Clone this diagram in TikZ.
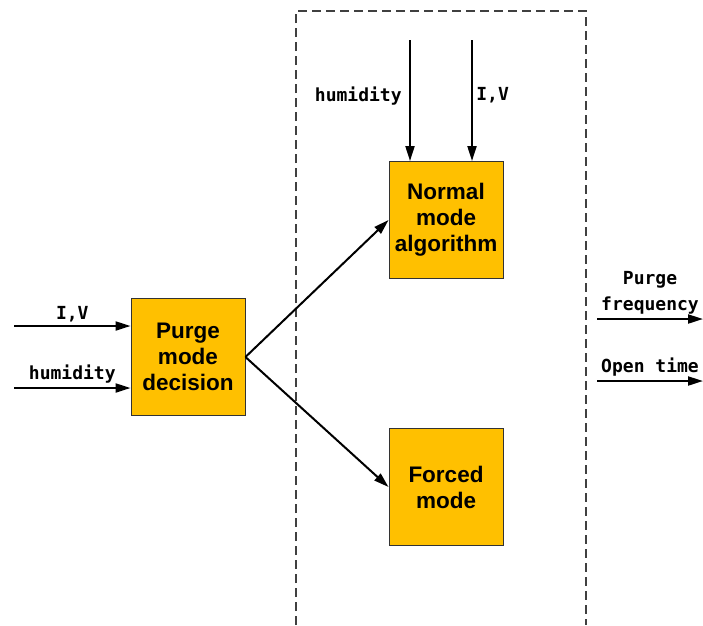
\documentclass[tikz,border=0pt]{standalone}
\usepackage{fontspec}
\setmainfont{Liberation Sans}
\setmonofont{DejaVu Sans Mono}
\usetikzlibrary{arrows.meta,positioning}
\definecolor{boxorange}{HTML}{FFC000}

\tikzset{
  modebox/.style={draw=black!80, line width=0.9pt, fill=boxorange, minimum width=114pt,
    minimum height=117pt, align=center, font=\bfseries\fontsize{22.5}{26}\selectfont},
  sig/.style={-{Triangle[length=15pt,width=9pt]}, line width=2pt},
  siglabel/.style={font=\ttfamily\bfseries\fontsize{18}{26}\selectfont, align=center},
  region/.style={dashed, dash pattern=on 9pt off 5pt, line width=1.3pt, draw=black!75}
}

\begin{document}
\begin{tikzpicture}[x=1pt, y=-1pt]
\useasboundingbox (0,0) rectangle (703,625);

% dashed region round the two algorithms
\draw[region] (296,625) -- (296,11) -- (586,11) -- (586,625);

\node[modebox] (decision) at (188,357) {Purge\\mode\\decision};
\node[modebox] (normal) at (446,220) {Normal\\mode\\algorithm};
\node[modebox] (forced) at (446,487) {Forced\\mode};

% free ends of the signals
\coordinate (ivin) at (14,326);
\coordinate (humin) at (14,388);
\coordinate (humtop) at (410,40);
\coordinate (ivtop) at (472,40);
\coordinate (freqout) at (597,319);
\coordinate (timeout) at (597,381);

\draw[sig] (ivin) -- (ivin -| decision.west) node[siglabel, midway, above] {I,V};
\draw[sig] (humin) -- (humin -| decision.west) node[siglabel, midway, above] {humidity};
\draw[sig] (humtop) -- (humtop |- normal.north) node[siglabel, pos=0.46, left=4pt] {humidity};
\draw[sig] (ivtop) -- (ivtop |- normal.north) node[siglabel, pos=0.46, right] {I,V};
\draw[sig] (decision.east) -- (normal.west);
\draw[sig] (decision.east) -- (forced.west);
\draw[sig] (freqout) -- ++(106,0) node[siglabel, midway, above] {Purge\\frequency};
\draw[sig] (timeout) -- ++(106,0) node[siglabel, midway, above] {Open time};
\end{tikzpicture}
\end{document}
